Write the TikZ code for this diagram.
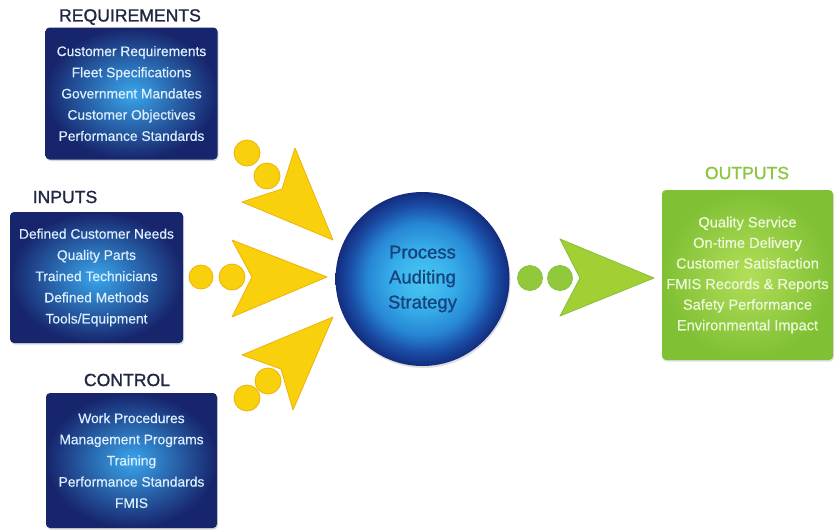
\documentclass[tikz,border=0pt]{standalone}
\usepackage{fontspec}
\setmainfont{Liberation Sans}
\newfontfamily\mytitlefont[FakeBold=1.1]{Liberation Sans}
\newfontfamily\myboxfont[FakeBold=0.5]{Liberation Sans}
\newfontfamily\mycircfont[FakeBold=1.0]{Liberation Sans}
\usetikzlibrary{shadows}
\definecolor{boxin}{HTML}{3AA6EC}
\definecolor{boxout}{HTML}{17256C}
\definecolor{boxtext}{HTML}{DCEEFF}
\definecolor{titlecol}{HTML}{1F2742}
\definecolor{grin}{HTML}{B2DE58}
\definecolor{grout}{HTML}{7FC034}
\definecolor{grtext}{HTML}{EEF8DA}
\definecolor{grtitle}{HTML}{8CC63F}
\definecolor{circtext}{HTML}{16427E}
\definecolor{yfill}{HTML}{F9D00C}
\definecolor{yedge}{HTML}{EFB20A}
\definecolor{gfill}{HTML}{A2CF34}
\definecolor{gedge}{HTML}{86C03A}
\definecolor{gdotfill}{HTML}{92C83C}
\definecolor{cA}{HTML}{4AC8F2}
\definecolor{cB}{HTML}{36AEEA}
\definecolor{cC}{HTML}{2786D4}
\definecolor{cD}{HTML}{1A4EA6}
\definecolor{cE}{HTML}{132C7E}
\pgfdeclareradialshading{circshade}{\pgfpoint{0bp}{0bp}}{%
  color(0bp)=(cA); color(9bp)=(cB); color(16bp)=(cC); color(21bp)=(cD); color(25bp)=(cE); color(50bp)=(cE)}
\begin{document}
\begin{tikzpicture}[x=1pt,y=-1pt,
  bluebox/.style={rectangle, rounded corners=4pt, inner sep=0pt, inner color=boxin, outer color=boxout,
    text=boxtext, align=center, font=\myboxfont\fontsize{13.8}{21.2}\selectfont,
    drop shadow={opacity=0.3,shadow xshift=1pt,shadow yshift=-1.5pt}},
  greenbox/.style={rectangle, rounded corners=4pt, inner sep=0pt, inner color=grin, outer color=grout,
    text=grtext, align=center, font=\myboxfont\fontsize{14.6}{20.6}\selectfont,
    drop shadow={opacity=0.25,shadow xshift=1pt,shadow yshift=-1.5pt}},
  boxtitle/.style={text=titlecol, font=\mytitlefont\fontsize{17.6}{20}\selectfont, inner sep=0pt},
  ydot/.style={circle, inner sep=0pt, fill=yfill, draw=yedge, line width=0.8pt},
  gdot/.style={circle, inner sep=0pt, fill=gdotfill, draw=gedge, line width=0.8pt},
  ychev/.style={fill=yfill, draw=yedge, line width=0.8pt, line join=round},
  gchev/.style={fill=gfill, draw=gedge, line width=0.8pt, line join=round}
]
\useasboundingbox (0,0) rectangle (837,531);
\fill[white] (0,0) rectangle (837,531);

% titles
\node[boxtitle] (treq) at (130,17) {REQUIREMENTS};
\node[boxtitle] (tinp) at (65,197) {INPUTS};
\node[boxtitle] (tctl) at (127,380) {CONTROL};
\node[boxtitle, text=grtitle] (tout) at (747,173) {OUTPUTS};

% boxes
\node[bluebox, minimum width=172pt, minimum height=132pt] (req) at (131.5,93.5)
  {Customer Requirements\\Fleet Specifications\\Government Mandates\\Customer Objectives\\Performance Standards};
\node[bluebox, minimum width=173pt, minimum height=131pt] (inp) at (96.5,277.5)
  {Defined Customer Needs\\Quality Parts\\Trained Technicians\\Defined Methods\\Tools/Equipment};
\node[bluebox, minimum width=171pt, minimum height=135pt] (ctl) at (131.5,460.5)
  {Work Procedures\\Management Programs\\Training\\Performance Standards\\FMIS};
\node[greenbox, minimum width=171pt, minimum height=170pt] (out) at (747.5,275)
  {Quality Service\\On-time Delivery\\Customer Satisfaction\\FMIS Records \& Reports\\Safety Performance\\Environmental Impact};

% central circle
\node[circle, minimum size=174pt, inner sep=0pt, shading=circshade,
  text=circtext, align=center, font=\mycircfont\fontsize{18.5}{25}\selectfont,
  drop shadow={opacity=0.25,shadow xshift=1pt,shadow yshift=-2pt}] (pas) at (422.5,279)
  {Process\\Auditing\\Strategy};

% yellow chevrons
\path[ychev] (295,148) -- (333,240) -- (242,202) -- (282,189) -- cycle;
\path[ychev] (232,240) -- (327,277) -- (232,317) -- (252,277) -- cycle;
\path[ychev] (242,355) -- (333,317) -- (293,410) -- (281,369) -- cycle;

% yellow dots
\node[ydot, minimum size=26pt] (d1) at (247,153) {};
\node[ydot, minimum size=26pt] (d2) at (267,176) {};
\node[ydot, minimum size=24pt] (d3) at (201,277) {};
\node[ydot, minimum size=26pt] (d4) at (232,277) {};
\node[ydot, minimum size=26pt] (d5) at (247,398) {};
\node[ydot, minimum size=26pt] (d6) at (268,381) {};

% green chevron and dots
\path[gchev] (560,239) -- (654,278) -- (560,316) -- (580,278) -- cycle;
\node[gdot, minimum size=25pt] (g1) at (530,278) {};
\node[gdot, minimum size=25pt] (g2) at (560,278) {};
\end{tikzpicture}
\end{document}
